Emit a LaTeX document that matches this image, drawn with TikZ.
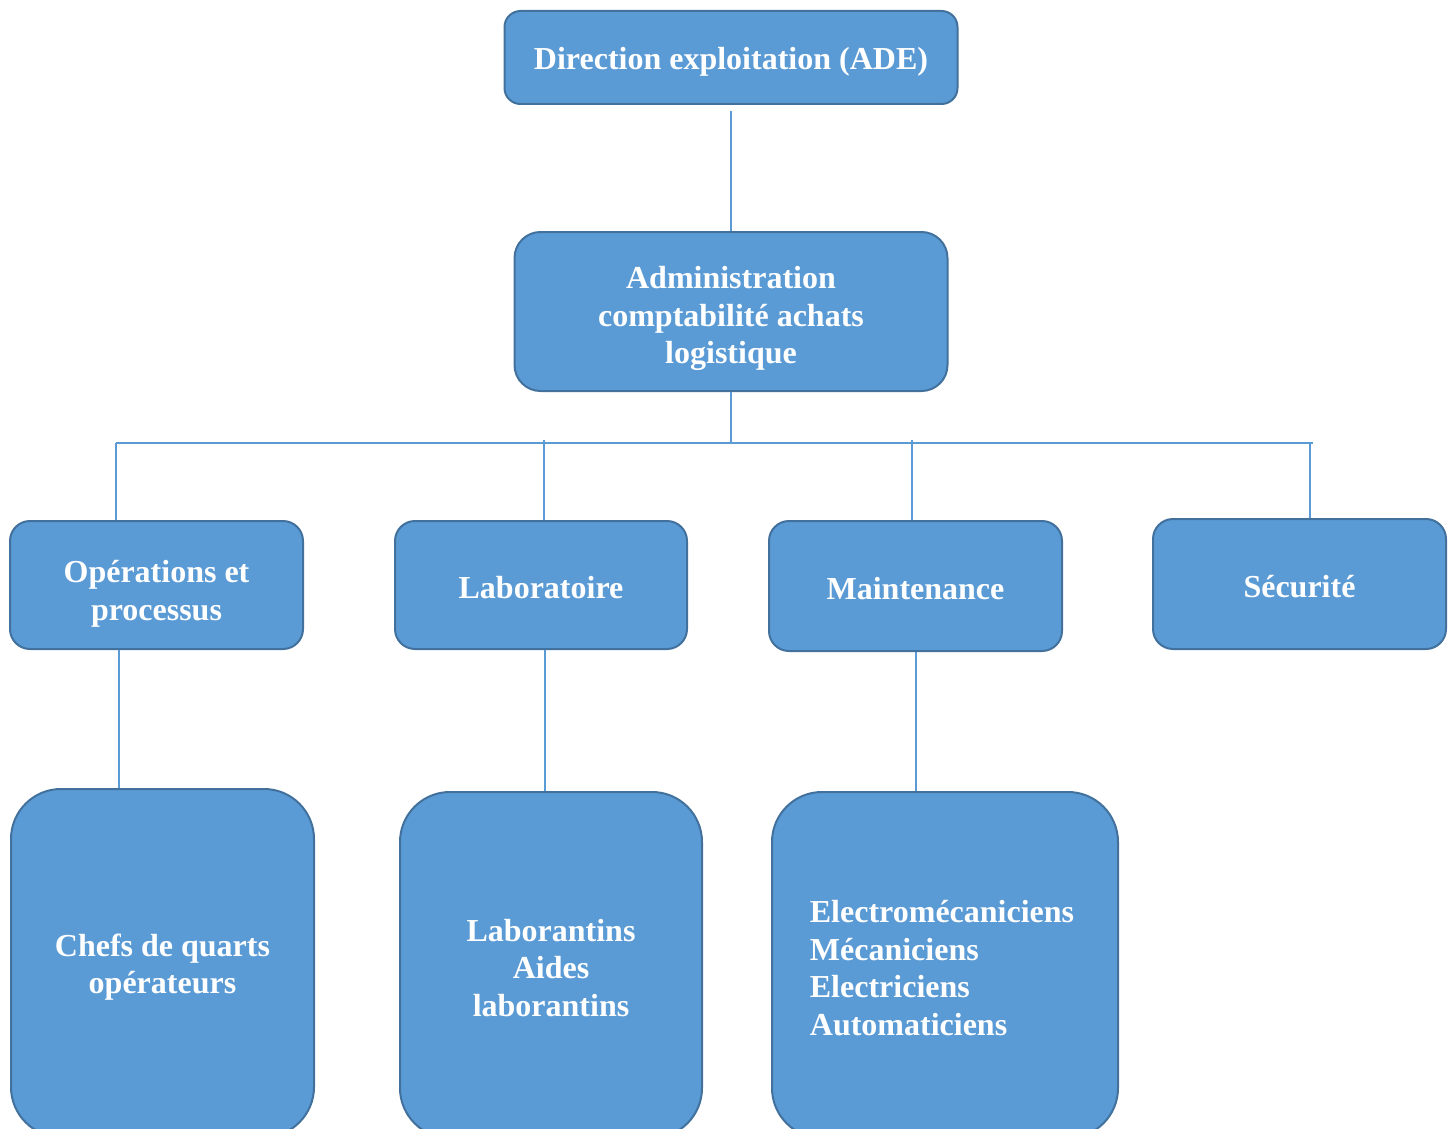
\documentclass[tikz,border=0pt]{standalone}
\usepackage{fontspec}
\setmainfont{Liberation Serif}
\definecolor{fillc}{RGB}{91,155,213}
\definecolor{bordc}{RGB}{65,113,156}
\definecolor{linec}{RGB}{91,155,213}
\tikzset{
  orgbox/.style={draw=bordc, line width=1pt, fill=fillc, inner sep=0pt},
  lbl/.style={text=white, align=center, inner sep=0pt,
    font=\fontsize{16}{18.75}\selectfont\bfseries},
  conn/.style={draw=linec, line width=0.6pt},
}
\begin{document}
\begin{tikzpicture}[x=0.5pt,y=-0.5pt]
\useasboundingbox (0,0) rectangle (1456,1129);
\clip (0,0) rectangle (1456,1129);
% top levels
\node[orgbox, rounded corners=8pt, minimum width=226.5pt, minimum height=46.5pt] (top) at (731,57.5) {};
\node[lbl, yshift=-2pt] (toptxt) at (top.center) {Direction exploitation (ADE)};
\node[orgbox, rounded corners=13pt, minimum width=216.5pt, minimum height=79.5pt] (mid) at (731,311.5) {};
\node[lbl, yshift=-3.5pt] (midtxt) at (mid.center) {Administration\\comptabilité achats\\logistique};
% second row
\node[orgbox, rounded corners=10pt, minimum width=146.5pt, minimum height=64pt] (ops) at (156.5,585) {};
\node[lbl, yshift=-4.5pt] (opstxt) at (ops.center) {Opérations et\\processus};
\node[orgbox, rounded corners=10pt, minimum width=146pt, minimum height=64pt] (lab) at (541,585) {};
\node[lbl, yshift=-1.5pt] (labtxt) at (lab.center) {Laboratoire};
\node[orgbox, rounded corners=10pt, minimum width=146.5pt, minimum height=65pt] (mnt) at (915.5,586) {};
\node[lbl, yshift=-1.5pt] (mnttxt) at (mnt.center) {Maintenance};
\node[orgbox, rounded corners=10pt, minimum width=146.5pt, minimum height=65pt] (sec) at (1299.5,584) {};
\node[lbl, yshift=-1.5pt] (sectxt) at (sec.center) {Sécurité};
% third row
\node[orgbox, rounded corners=25pt, minimum width=151.5pt, minimum height=174pt] (chefs) at (162.5,963) {};
\node[lbl, yshift=-2pt] (chefstxt) at (chefs.center) {Chefs de quarts\\opérateurs};
\node[orgbox, rounded corners=25pt, minimum width=151pt, minimum height=173pt] (labs) at (551,965) {};
\node[lbl, yshift=-1.5pt] (labstxt) at (labs.center) {Laborantins\\Aides\\laborantins};
\node[orgbox, rounded corners=25pt, minimum width=173pt, minimum height=173pt] (elec) at (945,965) {};
\node[lbl, align=left, yshift=-1.5pt, xshift=-1.5pt] (electxt) at (elec.center) {Electromécaniciens\\Mécaniciens\\Electriciens\\Automaticiens};
% connectors
\coordinate (busc) at (731,443);
\coordinate (busl) at (116,443);
\coordinate (busr) at (1313,443);
\coordinate (d1) at (116,443);
\coordinate (d2) at (544,440);
\coordinate (d3) at (912,440);
\coordinate (d4) at (1310,443);
\coordinate (c1) at (119,0);
\coordinate (c2) at (545,0);
\coordinate (c3) at (916,0);
\draw[conn, shorten <=3pt] (top) -- (mid);
\draw[conn] (mid) -- (busc);
\draw[conn] (busl) -- (busr);
\draw[conn] (d1) -- (d1 |- ops.north);
\draw[conn] (d2) -- (d2 |- lab.north);
\draw[conn] (d3) -- (d3 |- mnt.north);
\draw[conn] (d4) -- (d4 |- sec.north);
\draw[conn] (ops.south -| c1) -- (chefs.north -| c1);
\draw[conn] (lab.south -| c2) -- (labs.north -| c2);
\draw[conn] (mnt.south -| c3) -- (elec.north -| c3);
\end{tikzpicture}
\end{document}
